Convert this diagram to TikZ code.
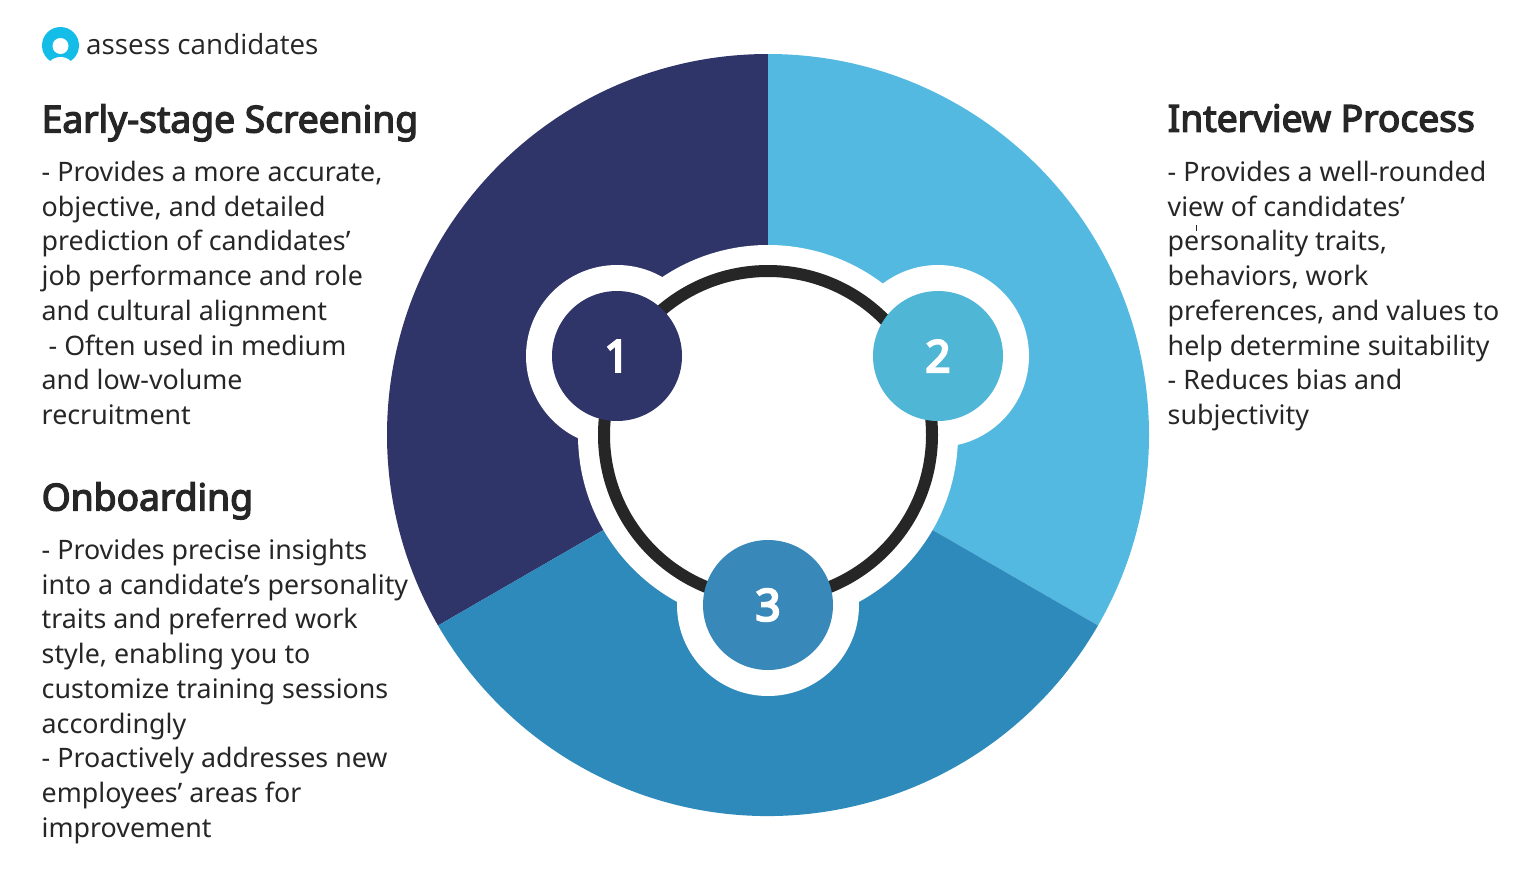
\documentclass[tikz,border=0pt]{standalone}
\usepackage{fontspec}
\setmainfont{Noto Sans}
\newfontfamily\logofont{Open Sans}
\newfontfamily\headfont[FakeBold=3.6]{Noto Sans}
\newfontfamily\digitfont[FakeBold=5]{Noto Sans}
\definecolor{segnavy}{HTML}{303569}
\definecolor{segsky}{HTML}{53B9E0}
\definecolor{segblue}{HTML}{2D8ABA}
\definecolor{badgesky}{HTML}{50B6D6}
\definecolor{badgeblue}{HTML}{3889BA}
\definecolor{inkdark}{HTML}{262626}
\definecolor{logocyan}{HTML}{14BDE8}
\begin{document}
\begin{tikzpicture}
        [
            x=1pt,
            y=-1pt,
            badge/.style={circle, minimum size=130pt, inner sep=0pt, text=white, font=\fontsize{44}{44}\selectfont\digitfont},
            heading/.style={anchor=north west, inner sep=0pt, text=inkdark, font=\fontsize{37.2}{42}\selectfont\headfont},
            body/.style={anchor=north west, inner sep=0pt, align=left, text=inkdark, font=\fontsize{26.8}{34.7}\selectfont}
        ]
        \useasboundingbox (0, 0) rectangle (1536, 870);
        \coordinate (o) at (768, 435);

        % the three sectors
        \fill[segnavy] (o) -- ++(90:-381) arc [start angle=-90, end angle=-210, radius=381] -- cycle;
        \fill[segsky] (o) -- ++(90:-381) arc [start angle=-90, end angle=30, radius=381] -- cycle;
        \fill[segblue] (o) -- ++(30:381) arc [start angle=30, end angle=150, radius=381] -- cycle;

        % white hub
        \fill[white] (o) circle [radius=190];
        \foreach \cx/\cy in {617/356, 938/356, 768/605}
            \fill[white] (\cx, \cy) circle [radius=91];
        \draw[inkdark, line width=12pt] (o) circle [radius=164];

        \node[badge, fill=segnavy] (one) at (617, 356) {1};
        \node[badge, fill=badgesky] (two) at (938, 356) {2};
        \node[badge, fill=badgeblue] (three) at (768, 605) {3};

        % logo
        \fill[logocyan] (60.5, 45.5) circle [radius=18.5];
        \fill[white] (60.5, 46) circle [radius=8];
        \fill[white] (60.5, 72) circle [radius=15];
        \node[anchor=base west, inner sep=0pt, text=inkdark, font=\fontsize{27.8}{29}\selectfont\logofont] (logo) at (86, 54.5) {assess candidates};

        \node[heading] (early) at (41.5, 104) {Early-stage Screening};
        \node[body] (earlytext) at (41.5, 161) {- Provides a more accurate,\\objective, and detailed\\prediction of candidates’\\job performance and role\\and cultural alignment\\\hspace*{7pt}- Often used in medium\\and low-volume\\recruitment};

        \node[heading] (onboard) at (41.5, 482) {Onboarding};
        \node[body] (onboardtext) at (41.5, 539) {- Provides precise insights\\into a candidate’s personality\\traits and preferred work\\style, enabling you to\\customize training sessions\\accordingly\\- Proactively addresses new\\employees’ areas for\\improvement};

        \node[heading] (interview) at (1167.5, 104) {Interview Process};
        \node[body] (interviewtext) at (1167.5, 161) {- Provides a well-rounded\\view of candidates’\\personality traits,\\behaviors, work\\preferences, and values to\\help determine suitability\\- Reduces bias and\\subjectivity};
        \draw[inkdark, line width=0.8pt] (1196, 225) -- (1196, 231);
    \end{tikzpicture}
\end{document}
